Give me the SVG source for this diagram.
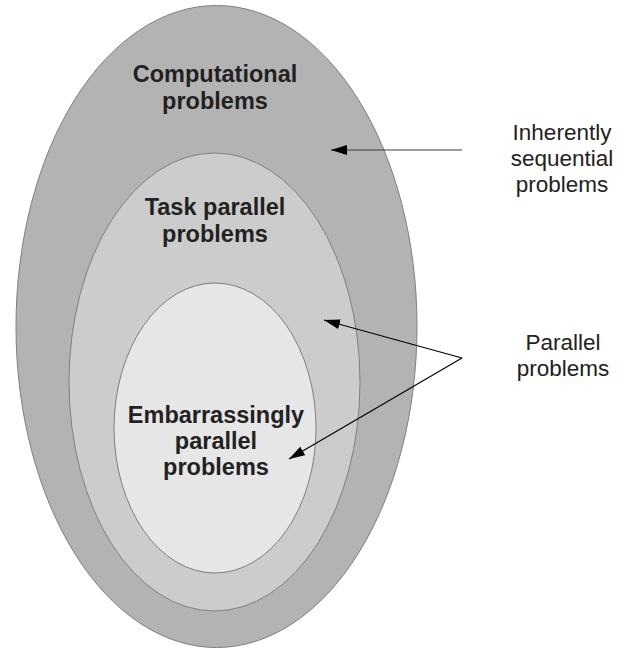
<svg xmlns="http://www.w3.org/2000/svg" width="618" height="648" viewBox="0 0 618 648">
<style>
.set{stroke:#7f7f7f;stroke-width:1}
.lbl{font-family:"Liberation Sans",Arial,sans-serif;font-weight:bold;font-size:23.5px;fill:#222;text-anchor:middle}
.note{font-family:"Liberation Sans",Arial,sans-serif;font-size:22.5px;fill:#222;text-anchor:middle}
.arr{fill:none;stroke-width:1.2}
</style>
<defs>
<marker id="ahG" viewBox="0 0 16 10" refX="16" refY="5" markerWidth="16" markerHeight="10" markerUnits="userSpaceOnUse" orient="auto"><path d="M0,0 L16,5 L0,10 Z" fill="#000"/></marker>
<marker id="ah" viewBox="0 0 16 10" refX="16" refY="5" markerWidth="16" markerHeight="10" markerUnits="userSpaceOnUse" orient="auto"><path d="M0,0 L16,5 L0,10 Z" fill="#000"/></marker>
</defs>
<rect width="618" height="648" fill="#fff"/>
<g id="computational">
<ellipse class="set" cx="216.5" cy="326.5" rx="200.5" ry="321" fill="#b3b3b3"/>
<text class="lbl" x="215" y="82">Computational</text>
<text class="lbl" x="215" y="109">problems</text>
</g>
<g id="task-parallel">
<ellipse class="set" cx="214.5" cy="382" rx="145.5" ry="229" fill="#cccccc"/>
<text class="lbl" x="215" y="215">Task parallel</text>
<text class="lbl" x="215" y="242">problems</text>
</g>
<g id="embarrassingly-parallel">
<ellipse class="set" cx="215" cy="428" rx="101" ry="145" fill="#e6e6e6"/>
<text class="lbl" x="216" y="423">Embarrassingly</text>
<text class="lbl" x="216" y="449">parallel</text>
<text class="lbl" x="216" y="475">problems</text>
</g>
<g id="inherently-sequential">
<text class="note" x="562" y="140">Inherently</text>
<text class="note" x="562" y="166">sequential</text>
<text class="note" x="562" y="192">problems</text>
</g>
<g id="parallel">
<text class="note" x="563" y="350">Parallel</text>
<text class="note" x="563" y="376">problems</text>
</g>
<g id="connectors">
<line class="arr" x1="462" y1="150" x2="331" y2="150" stroke="#3a3a3a" marker-end="url(#ahG)"/>
<line class="arr" x1="462" y1="358" x2="324" y2="320" stroke="#000" marker-end="url(#ah)"/>
<line class="arr" x1="462" y1="358" x2="289" y2="459" stroke="#000" marker-end="url(#ah)"/>
</g>
</svg>
